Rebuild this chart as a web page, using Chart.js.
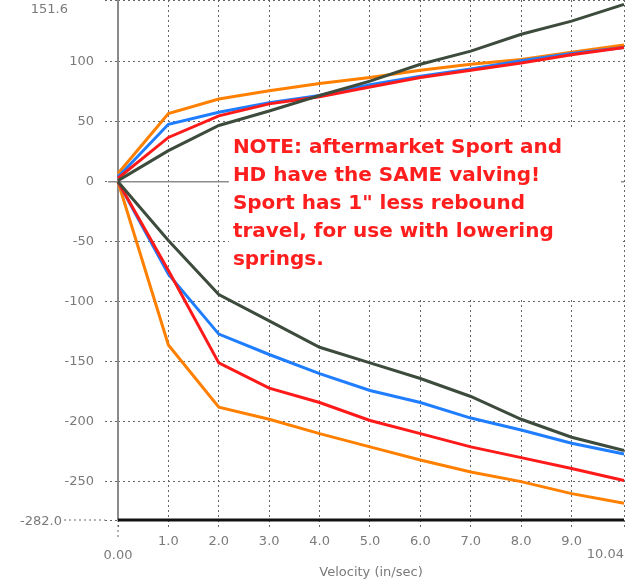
<!DOCTYPE html>
<html>
<head>
<meta charset="utf-8">
<script src="https://cdn.jsdelivr.net/npm/chart.js@4/dist/chart.umd.min.js"></script>
<style>
  html, body { margin: 0; padding: 0; background: #fff; }
  #wrap { width: 626px; height: 585px; }
</style>
</head>
<body>
<div id="wrap"><canvas id="chart" width="626" height="585"></canvas></div>
<script>
// velocity (in/sec) sample points
const velocity = [0, 1, 2, 3, 4, 5, 6, 7, 8, 9, 10.04];

// compression (positive) side
const grayComp   = [1, 26, 47, 59, 72, 84, 98, 109, 123, 134, 148];
const redComp    = [3, 37, 55, 65, 71, 79, 87, 93, 99, 106, 112];
const blueComp   = [4, 48, 58, 66, 72, 81, 88, 94, 101, 107, 112];
const orangeComp = [7, 57, 69, 76, 82, 87, 93, 98, 102, 108, 114];

// rebound (negative) side
const grayReb   = [0, -49, -94, -116, -138, -151, -164, -179, -198, -213, -224];
const redReb    = [0, -74, -151, -172, -184, -199, -210, -221, -230, -239, -249];
const blueReb   = [0, -77, -127, -144, -160, -174, -184, -197, -207, -218, -227];
const orangeReb = [0, -136, -188, -198, -210, -221, -232, -242, -250, -260, -268];

const xTicks = [0, 1, 2, 3, 4, 5, 6, 7, 8, 9, 10.04];
const yTicks = [-282, -250, -200, -150, -100, -50, 0, 50, 100, 151.6];

const noteLines = [
  'NOTE: aftermarket Sport and',
  'HD have the SAME valving!',
  'Sport has 1" less rebound',
  'travel, for use with lowering',
  'springs.'
];

const COLORS = { gray: '#3d4b3d', red: '#ff1a1a', blue: '#1f7dff', orange: '#ff8000' };
const LABEL_FONT = "13px 'DejaVu Sans', sans-serif";
const LABEL_COLOR = '#7a7a7a';
const GRID_COLOR = '#666';

function pts(vals) {
  return vals.map((v, i) => ({ x: velocity[i], y: v }));
}

function series(vals, color) {
  return {
    data: pts(vals),
    borderColor: color,
    borderWidth: 3,
    pointRadius: 0,
    tension: 0,
    fill: false,
    clip: false
  };
}

const chartDecor = {
  id: 'chartDecor',
  beforeDatasetsDraw(chart) {
    const { ctx, chartArea: a, scales: { x, y } } = chart;
    ctx.save();
    // solid zero line
    const y0 = y.getPixelForValue(0);
    ctx.strokeStyle = '#8c8c8c';
    ctx.lineWidth = 1.5;
    ctx.beginPath();
    ctx.moveTo(a.left - 10, y0);
    ctx.lineTo(a.right, y0);
    ctx.stroke();

    // left axis line
    ctx.strokeStyle = '#8a8a8a';
    ctx.lineWidth = 2;
    ctx.beginPath();
    ctx.moveTo(a.left, a.top);
    ctx.lineTo(a.left, a.bottom);
    ctx.stroke();

    // dashed extension of bottom gridline to its label
    ctx.strokeStyle = GRID_COLOR;
    ctx.lineWidth = 1;
    ctx.setLineDash([2, 3]);
    ctx.beginPath();
    ctx.moveTo(64, a.bottom);
    ctx.lineTo(a.left - 13, a.bottom);
    ctx.stroke();
    // dashed extension below the origin
    ctx.beginPath();
    ctx.moveTo(a.left, a.bottom);
    ctx.lineTo(a.left, a.bottom + 20);
    ctx.stroke();
    ctx.setLineDash([]);

    // note box
    const bx = x.getPixelForValue(2.2), by = y.getPixelForValue(44);
    const bx2 = x.getPixelForValue(9.98), by2 = y.getPixelForValue(-97);
    ctx.fillStyle = '#fff';
    ctx.fillRect(bx, by, bx2 - bx, by2 - by);

    ctx.fillStyle = '#ff1e1e';
    ctx.font = "bold 20px 'DejaVu Sans', sans-serif";
    ctx.textAlign = 'left';
    ctx.textBaseline = 'alphabetic';
    noteLines.forEach((t, i) => ctx.fillText(t, bx + 4, by + 24 + i * 28));
    ctx.restore();
  },
  afterDatasetsDraw(chart) {
    const { ctx, chartArea: a, scales: { x, y } } = chart;
    ctx.save();
    // bottom axis line
    ctx.strokeStyle = '#111';
    ctx.lineWidth = 3;
    ctx.beginPath();
    ctx.moveTo(a.left, a.bottom);
    ctx.lineTo(a.right, a.bottom);
    ctx.stroke();

    // end labels
    ctx.fillStyle = LABEL_COLOR;
    ctx.font = LABEL_FONT;
    ctx.textBaseline = 'middle';
    ctx.textAlign = 'right';
    ctx.fillText('151.6', 68, y.getPixelForValue(151.6) + 10);
    ctx.fillText('-282.0', 62, y.getPixelForValue(-282) + 2);
    ctx.textAlign = 'center';
    ctx.fillText('0.00', x.getPixelForValue(0), a.bottom + 36);
    ctx.textAlign = 'right';
    ctx.fillText('10.04', x.getPixelForValue(10.04), a.bottom + 35);
    ctx.restore();
  }
};

const gridDash = [2, 3];

new Chart(document.getElementById('chart'), {
  type: 'line',
  data: {
    datasets: [
      series(grayComp, COLORS.gray),
      series(grayReb, COLORS.gray),
      series(redComp, COLORS.red),
      series(redReb, COLORS.red),
      series(blueComp, COLORS.blue),
      series(blueReb, COLORS.blue),
      series(orangeComp, COLORS.orange),
      series(orangeReb, COLORS.orange)
    ]
  },
  options: {
    responsive: false,
    animation: false,
    layout: { padding: { left: 0, right: 2, top: 0, bottom: 0 } },
    plugins: { legend: { display: false }, tooltip: { enabled: false } },
    scales: {
      x: {
        type: 'linear',
        min: 0,
        max: 10.04,
        afterBuildTicks: s => { s.ticks = xTicks.map(v => ({ value: v })); },
        afterFit: s => { s.height = 65; s.paddingLeft = 0; s.paddingRight = 0; },
        grid: { color: GRID_COLOR, lineWidth: 1, tickLength: 8, tickBorderDash: gridDash, tickColor: GRID_COLOR },
        border: { display: false, dash: gridDash },
        ticks: {
          autoSkip: false,
          maxRotation: 0,
          padding: 6,
          color: LABEL_COLOR,
          font: { family: "'DejaVu Sans', sans-serif", size: 13 },
          callback: v => (v === 0 || v === 10.04) ? '' : v.toFixed(1)
        },
        title: {
          display: true,
          text: 'Velocity (in/sec)',
          color: LABEL_COLOR,
          font: { family: "'DejaVu Sans', sans-serif", size: 13 },
          padding: { top: 0, bottom: 5 }
        }
      },
      y: {
        type: 'linear',
        min: -282,
        max: 151.6,
        afterBuildTicks: s => { s.ticks = yTicks.map(v => ({ value: v })); },
        afterFit: s => { s.width = 118; s.paddingTop = 0; s.paddingBottom = 0; },
        grid: { color: GRID_COLOR, lineWidth: 1, tickLength: 13, tickBorderDash: gridDash, tickColor: GRID_COLOR },
        border: { display: false, dash: gridDash },
        ticks: {
          autoSkip: false,
          padding: 11,
          color: LABEL_COLOR,
          font: { family: "'DejaVu Sans', sans-serif", size: 13 },
          callback: v => (v === -282 || v === 151.6) ? '' : String(v)
        }
      }
    }
  },
  plugins: [chartDecor]
});
</script>
</body>
</html>
